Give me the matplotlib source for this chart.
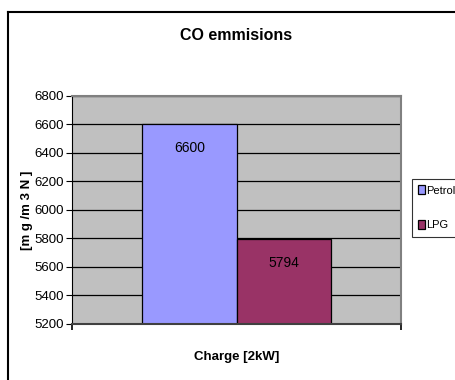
import matplotlib
matplotlib.use("Agg")
import matplotlib.pyplot as plt
from matplotlib.lines import Line2D
from matplotlib import font_manager

names = {f.name for f in font_manager.fontManager.ttflist}
fam = [n for n in ['Liberation Sans Narrow', 'Liberation Sans', 'DejaVu Sans'] if n in names]
plt.rcParams['font.family'] = fam

title = "CO emmisions"
xlabel = "Charge [2kW]"
ylabel = "[m g /m 3 N ]"
series = ["Petrol", "LPG"]
values = [6600, 5794]
colors = ["#9999FF", "#993366"]
yticks = [5200, 5400, 5600, 5800, 6000, 6200, 6400, 6600, 6800]

fig = plt.figure(figsize=(4.55, 3.80), dpi=100)
ax = fig.add_axes([72/455, 1-324/380, 329/455, 228/380])
ax.set_facecolor("#C0C0C0")
ax.set_ylim(5200, 6800)
ax.set_xlim(-0.5, 0.5)
ax.set_yticks(yticks)
ax.set_yticklabels([str(t) for t in yticks], fontsize=9.5)
ax.yaxis.grid(True, color="black", linewidth=0.9)
ax.set_axisbelow(True)
ax.tick_params(axis='y', direction='out', length=4, width=0.8, pad=2)
ax.set_xticks([-0.5, 0.5])
ax.set_xticklabels([])
ax.tick_params(axis='x', direction='out', length=4, width=1.2)

w = 0.286
offs = [-w/2, w/2]
for s, v, c, o in zip(series, values, colors, offs):
    ax.bar(o, v - 5200, bottom=5200, width=w, color=c, edgecolor="black", linewidth=0.9, label=s)
    ax.annotate(str(v), xy=(o, v), xytext=(0, -17), textcoords="offset points",
                ha="center", va="center", fontsize=10)

for sp in ['top', 'right']:
    ax.spines[sp].set_color("#808080")
    ax.spines[sp].set_linewidth(1.5)
ax.spines['bottom'].set_color("#404040")
ax.spines['bottom'].set_linewidth(1.5)
ax.spines['left'].set_color("black")
ax.spines['left'].set_linewidth(0.8)

ax.set_ylabel(ylabel, fontsize=9.5, fontweight="bold", labelpad=1)
ax.set_xlabel(xlabel, fontsize=9.5, fontweight="bold", labelpad=12)
fig.text(236/455, 1-36/380, title, ha="center", va="center", fontsize=11.5, fontweight="bold")

leg = ax.legend(loc="upper left", bbox_to_anchor=(412/455, 1-179/380), bbox_transform=fig.transFigure,
                frameon=True, fancybox=False, edgecolor="black", fontsize=8,
                handlelength=0.6, handleheight=0.9, handletextpad=0.15, borderpad=0.55,
                labelspacing=2.2, borderaxespad=0)
leg.get_frame().set_linewidth(0.8)

fig.add_artist(Line2D([8/455, 8/455], [0, 1-12/380], transform=fig.transFigure, color="black", linewidth=1.5))
fig.add_artist(Line2D([8/455, 1], [1-12/380, 1-12/380], transform=fig.transFigure, color="black", linewidth=1.5))

fig.savefig("out.png", dpi=100)
